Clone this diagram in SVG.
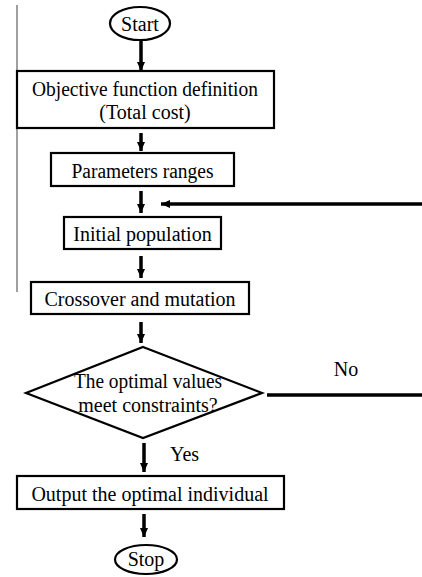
<svg xmlns="http://www.w3.org/2000/svg" width="422" height="577" viewBox="0 0 422 577">
<style>
.box{fill:#fff;stroke:#000;stroke-width:2.2}
.t{font-family:"Liberation Serif","Times New Roman",serif;font-size:20px;fill:#000;text-anchor:middle}
.c{stroke:#000;stroke-width:3.5;fill:none}
</style>
<defs>
<marker id="ah" markerUnits="userSpaceOnUse" markerWidth="10" markerHeight="10" viewBox="0 0 10 10" refX="9" refY="5" orient="auto">
<path d="M0,1 L9,5 L0,9 Z" fill="#000"/>
</marker>
</defs>
<rect width="422" height="577" fill="#fff"/>
<line x1="17" y1="5" x2="17" y2="292" stroke="#888" stroke-width="1.6"/>
<g id="start"><ellipse cx="140" cy="23.5" rx="30" ry="16.5" class="box"/><text x="140" y="31" class="t">Start</text></g>
<g id="objective"><rect x="17" y="71" width="257" height="57" class="box"/><text x="145" y="96" class="t" textLength="226" lengthAdjust="spacingAndGlyphs">Objective function definition</text><text x="145" y="119" class="t">(Total cost)</text></g>
<g id="params"><rect x="51" y="153" width="183" height="33" class="box"/><text x="142.5" y="178" class="t" textLength="142" lengthAdjust="spacingAndGlyphs">Parameters ranges</text></g>
<g id="initpop"><rect x="64" y="217" width="157" height="32" class="box"/><text x="142.5" y="241" class="t">Initial population</text></g>
<g id="crossover"><rect x="31" y="282" width="218" height="32" class="box"/><text x="140" y="306" class="t">Crossover and mutation</text></g>
<g id="decision"><polygon points="143,347 262,393 143,438 26,393" class="box"/><text x="148" y="388" class="t" textLength="148" lengthAdjust="spacingAndGlyphs">The optimal values</text><text x="148" y="412" class="t">meet constraints?</text></g>
<g id="output"><rect x="17" y="476" width="267" height="33" class="box"/><text x="150" y="501" class="t">Output the optimal individual</text></g>
<g id="stop"><ellipse cx="146" cy="559.5" rx="31" ry="14.5" class="box"/><text x="146" y="566" class="t">Stop</text></g>
<g id="connectors">
<line x1="141" y1="41" x2="141" y2="71" class="c" marker-end="url(#ah)"/>
<line x1="141" y1="133" x2="141" y2="151" class="c" marker-end="url(#ah)"/>
<line x1="141" y1="191" x2="141" y2="213" class="c" marker-end="url(#ah)"/>
<line x1="422" y1="204" x2="161" y2="204" class="c" marker-end="url(#ah)"/>
<line x1="141" y1="256" x2="141" y2="278" class="c" marker-end="url(#ah)"/>
<line x1="141" y1="322" x2="141" y2="343" class="c" marker-end="url(#ah)"/>
<line x1="267" y1="395" x2="422" y2="395" class="c"/>
<text x="346" y="376" class="t">No</text>
<line x1="144" y1="443" x2="144" y2="472" class="c" marker-end="url(#ah)"/>
<text x="170" y="461" class="t" style="text-anchor:start">Yes</text>
<line x1="144" y1="514" x2="144" y2="537" class="c" marker-end="url(#ah)"/>
</g>
</svg>
